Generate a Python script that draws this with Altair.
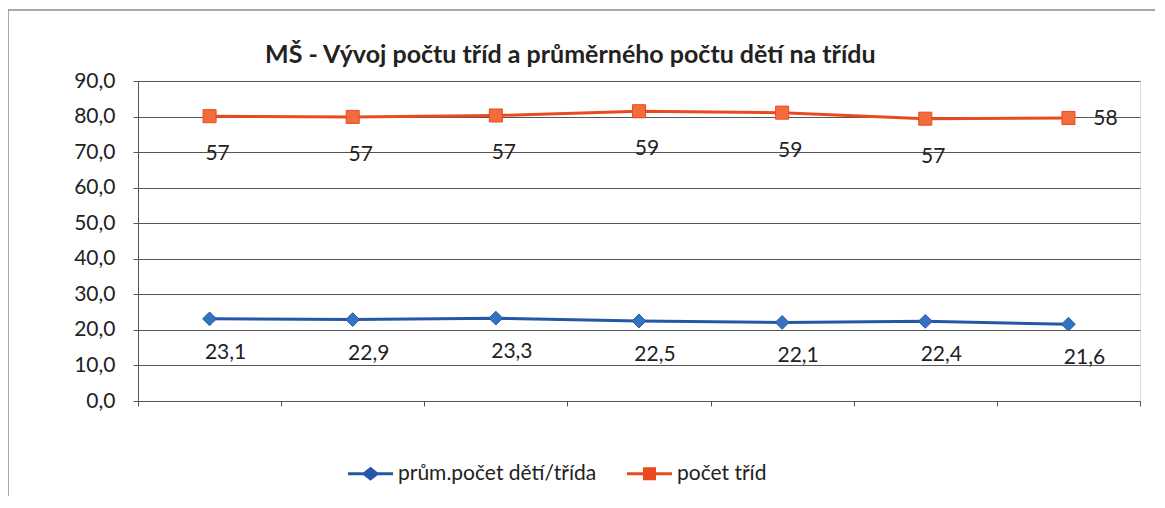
import altair as alt
import pandas as pd

categories = ["1", "2", "3", "4", "5", "6", "7"]
avg_children = [23.1, 22.9, 23.3, 22.5, 22.1, 22.4, 21.6]
class_count = [57, 57, 57, 59, 59, 57, 58]
series_names = ["prům.počet dětí/třída", "počet tříd"]
title_text = "MŠ - Vývoj počtu tříd a průměrného počtu dětí na třídu"
y_ticks = [0, 10, 20, 30, 40, 50, 60, 70, 80, 90]

rows = []
for i, c in enumerate(categories):
    rows.append({"cat": c, "idx": i, "series": series_names[0], "order": 0, "value": avg_children[i]})
    rows.append({"cat": c, "idx": i, "series": series_names[1], "order": 1, "value": class_count[i]})
df = pd.DataFrame(rows)

FONT = "Lato"
FS = 21
BLUE_LINE = "#2458a6"
BLUE_FILL = "#3573c0"
ORANGE_LINE = "#ea4a1e"
ORANGE_FILL = "#f26c3c"
GRID = "#555555"
TEXT = "#222222"

BLUE_PATH = ("M-1,-0.067L-0.31,-0.067L0,-0.31L0.31,-0.067L1,-0.067L1,0.067"
             "L0.31,0.067L0,0.31L-0.31,0.067L-1,0.067Z")
ORANGE_PATH = ("M-1,-0.067L-0.29,-0.067L-0.29,-0.29L0.29,-0.29L0.29,-0.067L1,-0.067"
               "L1,0.067L0.29,0.067L0.29,0.29L-0.29,0.29L-0.29,0.067L-1,0.067Z")

base = alt.Chart(df).transform_stack(
    stack="value", groupby=["cat"], as_=["y0", "y1"],
    sort=[alt.SortField("order", "ascending")]
).transform_calculate(
    xpos="datum.idx + 0.5",
    blabel="replace(format(datum.value, '.1f'), '.', ',')",
    olabel="format(datum.value, 'd')",
)

x_enc = alt.X(
    "xpos:Q",
    scale=alt.Scale(domain=[0, len(categories)], nice=False, zero=False),
    axis=alt.Axis(values=list(range(len(categories) + 1)), labels=False, title=None,
                  grid=False, tickSize=5, tickColor=GRID, domainColor=GRID),
)
y_enc = alt.Y(
    "y1:Q",
    scale=alt.Scale(domain=[0, 90], nice=False),
    axis=alt.Axis(values=y_ticks, title=None, tickSize=5, tickColor=GRID, domainColor=GRID,
                  gridColor=GRID, gridOpacity=1, labelFont=FONT, labelFontSize=FS,
                  labelColor=TEXT, labelPadding=18,
                  labelExpr="replace(format(datum.value, '.1f'), '.', ',')"),
)

blue = base.transform_filter("datum.order == 0")
orange = base.transform_filter("datum.order == 1")

blue_line = blue.mark_line(color=BLUE_LINE, strokeWidth=3).encode(x=x_enc, y=y_enc)
orange_line = orange.mark_line(color=ORANGE_LINE, strokeWidth=3).encode(x=x_enc, y=y_enc)
blue_pts = blue.mark_point(shape="diamond", filled=True, size=190, fill=BLUE_FILL,
                           stroke=BLUE_LINE, strokeWidth=1, opacity=1).encode(x=x_enc, y=y_enc)
orange_pts = orange.mark_point(shape="square", filled=True, size=170, fill=ORANGE_FILL,
                               stroke=ORANGE_LINE, strokeWidth=1, opacity=1).encode(x=x_enc, y=y_enc)

blue_lbl = blue.mark_text(dy=34, dx=16, font=FONT, fontSize=FS, color=TEXT).encode(
    x=x_enc, y=y_enc, text="blabel:N")
orange_lbl = orange.transform_filter("datum.idx < 6").mark_text(
    dy=38, dx=8, font=FONT, fontSize=FS, color=TEXT).encode(x=x_enc, y=y_enc, text="olabel:N")
orange_lbl_last = orange.transform_filter("datum.idx == 6").mark_text(
    dx=37, dy=1, font=FONT, fontSize=FS, color=TEXT).encode(x=x_enc, y=y_enc, text="olabel:N")

leg = alt.Legend(orient="none", legendX=210, legendY=370, direction="horizontal", title=None,
                 symbolSize=2025, symbolOpacity=1, symbolStrokeWidth=0, labelFont=FONT,
                 labelFontSize=FS, labelColor=TEXT, labelLimit=0, columnPadding=30,
                 labelOffset=5, padding=0)
legend_layer = base.mark_point(filled=True, opacity=0).encode(
    x=x_enc, y=y_enc,
    shape=alt.Shape("series:N", scale=alt.Scale(domain=series_names, range=[BLUE_PATH, ORANGE_PATH]),
                    legend=leg),
    color=alt.Color("series:N", scale=alt.Scale(domain=series_names, range=[BLUE_LINE, ORANGE_LINE]),
                    legend=leg),
)

border = alt.Chart(pd.DataFrame({"a": [0]})).mark_rect(
    fillOpacity=0, stroke=GRID, strokeWidth=1
).encode(x=alt.value(-130), x2=alt.value(1050), y=alt.value(-71), y2=alt.value(520))

title_mark = alt.Chart(pd.DataFrame({"t": [title_text]})).mark_text(
    font=FONT, fontSize=25, fontWeight="bold", color=TEXT, align="left", baseline="alphabetic"
).encode(x=alt.value(127), y=alt.value(-18), text="t:N")

chart = alt.layer(
    border, title_mark, blue_line, orange_line, blue_pts, orange_pts,
    blue_lbl, orange_lbl, orange_lbl_last, legend_layer
).properties(
    width=1002, height=320,
    padding={"left": 130, "top": 73, "right": 15, "bottom": 95},
    autosize=alt.AutoSizeParams(type="none"),
).configure_view(stroke=None).configure(background="white")

chart.save("out.html", embed_options={"renderer": "svg", "actions": False})
